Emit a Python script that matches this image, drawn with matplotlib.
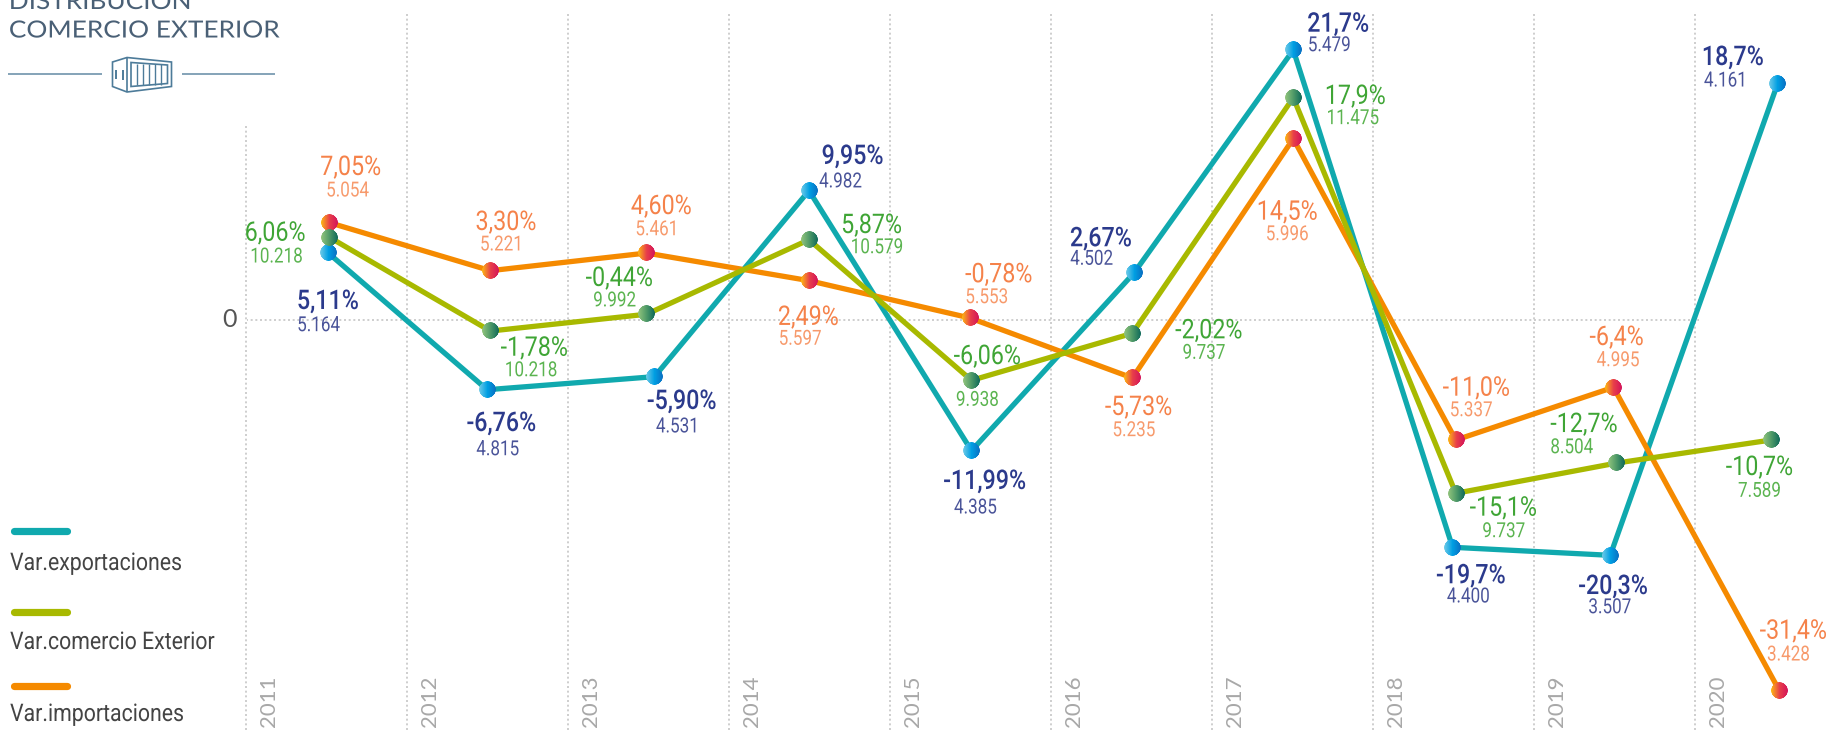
import numpy as np
import matplotlib
matplotlib.use("Agg")
import matplotlib.pyplot as plt
from matplotlib.lines import Line2D
from matplotlib.offsetbox import AnnotationBbox, OffsetImage
from matplotlib.patches import Polygon
from matplotlib.patheffects import AbstractPathEffect
from matplotlib.transforms import Affine2D, ScaledTranslation

W, H = 1845, 730
NARROW = ["Roboto", "DejaVu Sans"]
WIDE = ["Lato", "Open Sans", "DejaVu Sans"]

years = [2011, 2012, 2013, 2014, 2015, 2016, 2017, 2018, 2019, 2020]

# values as drawn in the picture (positions do not quite follow the printed %)
x_exp = [2010.99, 2011.98, 2013.02, 2013.98, 2014.99, 2016.00, 2016.99, 2017.98, 2018.96, 2020.00]
y_exp = [5.61, -5.81, -4.72, 10.78, -10.89, 3.92, 22.5, -18.94, -19.61, 19.69]
x_com = [2011.00, 2012.00, 2012.97, 2013.98, 2014.99, 2015.99, 2016.99, 2018.00, 2019.00, 2019.96]
y_com = [6.89, -0.92, 0.48, 6.69, -5.03, -1.11, 18.53, -14.44, -11.92, -10.0]
x_imp = [2011.00, 2012.00, 2012.97, 2013.98, 2014.98, 2015.99, 2016.99, 2018.00, 2018.98, 2020.01]
y_imp = [8.11, 4.11, 5.58, 3.28, 0.17, -4.83, 15.11, -10.0, -5.61, -30.86]

pct_exp = ["5,11%", "-6,76%", "-5,90%", "9,95%", "-11,99%", "2,67%", "21,7%", "-19,7%", "-20,3%", "18,7%"]
num_exp = ["5.164", "4.815", "4.531", "4.982", "4.385", "4.502", "5.479", "4.400", "3.507", "4.161"]
pct_com = ["6,06%", "-1,78%", "-0,44%", "5,87%", "-6,06%", "-2,02%", "17,9%", "-15,1%", "-12,7%", "-10,7%"]
num_com = ["10.218", "10.218", "9.992", "10.579", "9.938", "9.737", "11.475", "9.737", "8.504", "7.589"]
pct_imp = ["7,05%", "3,30%", "4,60%", "2,49%", "-0,78%", "-5,73%", "14,5%", "-11,0%", "-6,4%", "-31,4%"]
num_imp = ["5.054", "5.221", "5.461", "5.597", "5.553", "5.235", "5.996", "5.337", "4.995", "3.428"]

# label offsets from each point, in pixels: (dx, dy) of the % and of the number
off_exp = [(0, -47.3, -9.3, -71), (14.3, -32.3, 10.6, -58), (27.3, -23.3, 23.3, -48.3), (43.6, 35.7, 31.6, 10.7),
           (13.3, -29.3, 4, -55.3), (-33, 35.7, -42.3, 15.7), (45, 27.3, 36, 6.3), (18.4, -27, 15.7, -47.7),
           (3, -29.7, -0.4, -50.4), (-44.8, 27.7, -51.8, 4.7)]
off_com = [(-54.3, 5.6, -53, -17.7), (44, -15.7, 40.7, -37.7), (-27, 37.3, -31.7, 15.3), (62.6, 15.7, 68, -6),
           (16, 25.3, 6, -18), (76.6, 4, 71.6, -18), (62, 2.7, 59.5, -19), (47.7, -13.4, 48, -36.4),
           (-32.6, 40, -45, 17.3), (-11.6, -26, -11.6, -49.3)]
off_imp = [(21.3, 56.7, 18, 33.7), (15.7, 49.7, 11.4, 27.7), (15, 48, 10.7, 25.3), (-0.5, -35.3, -8.8, -56.6),
           (29, 44.7, 17, 22.3), (6.3, -28, 1.6, -50.7), (-6, -72, -6, -94), (20.7, 53.3, 15.4, 31.3),
           (3.3, 51.3, 4.7, 28.6), (14.3, 60.6, 9.3, 37.3)]


class Squeeze(AbstractPathEffect):
    # no condensed font here, so narrow (or widen) the glyph outlines
    def __init__(self, sx, left=False):
        super().__init__()
        self.sx = sx
        self.left = left

    def draw_path(self, renderer, gc, tpath, affine, rgbFace=None):
        bb = tpath.get_extents(affine)
        x0 = bb.x0 if self.left else (bb.x0 + bb.x1) / 2
        aff = affine + Affine2D().translate(-x0, 0).scale(self.sx, 1).translate(x0, 0)
        renderer.draw_path(gc, tpath, aff, rgbFace)


def dot_image(left, mid, right, size=64):
    # horizontal gradient inside a soft edged circle
    t = np.linspace(0, 1, size)
    stops = np.array([matplotlib.colors.to_rgb(c) for c in (left, mid, right)])
    rgb = np.stack([np.interp(t, [0, 0.5, 1], stops[:, i]) for i in range(3)], axis=-1)
    img = np.zeros((size, size, 4))
    img[:, :, :3] = rgb[None, :, :]
    yy, xx = np.mgrid[0:size, 0:size]
    r = np.hypot(xx - (size - 1) / 2, yy - (size - 1) / 2) / (size / 2)
    img[:, :, 3] = np.clip((1 - r) * size / 3, 0, 1)
    return img


fig = plt.figure(figsize=(W / 100, H / 100), dpi=100, facecolor="white")
left = 246.7
ax = fig.add_axes([left / W, 0, 1 - left / W, 1])
px_per_year = 160.9
px_per_unit = 12
ax.set_xlim(2011 + (left - 329.5) / px_per_year, 2011 + (W - 329.5) / px_per_year)
ax.set_ylim((320 - H) / px_per_unit, 320 / px_per_unit)
for s in ax.spines.values():
    s.set_visible(False)
ax.set_xticks([])
ax.set_yticks([0], labels=["0"], family=WIDE, fontsize=18, color="#555555")
ax.tick_params(axis="y", length=0, pad=7)
for lab in ax.get_yticklabels():
    lab.set_transform(lab.get_transform() + ScaledTranslation(0, 2 / 72, fig.dpi_scale_trans))

# dotted grid
grid_color = "#c6c6c6"
grid_x = [y - 0.516 for y in years]
y_bot, y_top = ax.get_ylim()
for i, gx in enumerate(grid_x):
    top = (320 - 126) / px_per_unit if i == 0 else (320 - 13) / px_per_unit
    ax.plot([gx, gx], [y_bot, top], color=grid_color, lw=1.2, ls=(0, (1.2, 1.6)), zorder=1, clip_on=False)
    ax.annotate(str(years[i]), (gx, y_bot), xytext=(23 * 0.72, 3 * 0.72), textcoords="offset points",
                rotation=90, ha="center", va="bottom", family=WIDE, fontsize=16, color="#a8a8a8")
ax.plot([grid_x[0], grid_x[-1] + 0.025], [0, 0], color=grid_color, lw=1.2, ls=(0, (1.2, 1.6)), zorder=1)

series = [
    (x_exp, y_exp, pct_exp, num_exp, off_exp, "#10a9ae", "#2b3a8c", "#4a5499", ("#6fcbe8", "#009fe3", "#0a6fc2"), 3, 500),
    (x_imp, y_imp, pct_imp, num_imp, off_imp, "#f58a00", "#f5824a", "#f79a6c", ("#fdb813", "#e8404a", "#d4145a"), 4, 400),
    (x_com, y_com, pct_com, num_com, off_com, "#a8b900", "#3fa535", "#5bb450", ("#93c47d", "#4f9a68", "#0f6a5a"), 5, 400),
]

for xs, ys, pcts, nums, offs, line_c, pct_c, num_c, dot_c, z, wt in series:
    ax.plot(xs, ys, color=line_c, lw=3.8, solid_joinstyle="miter", zorder=z)
    dot = dot_image(*dot_c)
    for x, y, pct, num, (dx1, dy1, dx2, dy2) in zip(xs, ys, pcts, nums, offs):
        box = AnnotationBbox(OffsetImage(dot, zoom=0.185, interpolation="bilinear"), (x, y),
                             frameon=False, pad=0, box_alignment=(0.5, 0.5), zorder=7)
        ax.add_artist(box)
        ax.annotate(pct, (x, y), xytext=(dx1 * 0.72, (dy1 - 9) * 0.72), textcoords="offset points",
                    ha="center", va="baseline", family=NARROW, fontsize=19.5, weight=wt, color=pct_c, zorder=8,
                    path_effects=[Squeeze(0.86)])
        ax.annotate(num, (x, y), xytext=(dx2 * 0.72, (dy2 - 7.5) * 0.72), textcoords="offset points",
                    ha="center", va="baseline", family=NARROW, fontsize=15, color=num_c, zorder=8,
                    path_effects=[Squeeze(0.82)])

# everything below is placed in image pixels, y going down
px = Affine2D().scale(1, -1).translate(0, H)


def seg(xs, ys, color, lw, cap="butt"):
    fig.add_artist(Line2D(xs, ys, color=color, lw=lw, solid_capstyle=cap, transform=px))


def label(x, y, s, sx=1.0, **kw):
    fig.text(x, y, s, transform=px, path_effects=[Squeeze(sx, left=True)], **kw)


# legend
legend_items = [("Var.exportaciones", "#10a9ae", 531, 570),
                ("Var.comercio Exterior", "#a8b900", 612, 649),
                ("Var.importaciones", "#f58a00", 686, 721)]
for name, c, bar_y, text_y in legend_items:
    seg([14, 67], [bar_y, bar_y], c, 5.2, "round")
    label(10, text_y, name, sx=0.875, family=NARROW, fontsize=17.5, color="#444444", va="baseline")

# heading
title_c = "#4a6076"
label(9, 9, "DISTRIBUCIÓN", sx=1.11, family=WIDE, fontsize=17, color=title_c, va="baseline")
label(9, 37.5, "COMERCIO EXTERIOR", sx=1.11, family=WIDE, fontsize=17, color=title_c, va="baseline")

# divider with container icon
icon_c = "#4d7b99"
seg([8, 102], [73.7, 73.7], "#6f93ab", 1.2)
seg([182, 275], [73.7, 73.7], "#6f93ab", 1.2)
fig.add_artist(Polygon([(112.5, 62), (127, 57.5), (171.5, 62), (171.5, 86.5), (127, 92), (112.5, 86.5)],
                       closed=True, fill=False, ec=icon_c, lw=1.2, transform=px))
seg([127, 127], [57.5, 92], icon_c, 1.2)
fig.add_artist(Polygon([(131, 62.5), (167.5, 65), (167.5, 83.5), (131, 86.5)],
                       closed=True, fill=False, ec=icon_c, lw=1.2, transform=px))
for bx in [137, 143, 149, 155, 161]:
    seg([bx, bx], [64, 85], icon_c, 1.0)
seg([116, 116], [70, 79], icon_c, 1.4)
seg([123, 123], [70, 80], icon_c, 1.4)

fig.savefig("out.png", dpi=100)
